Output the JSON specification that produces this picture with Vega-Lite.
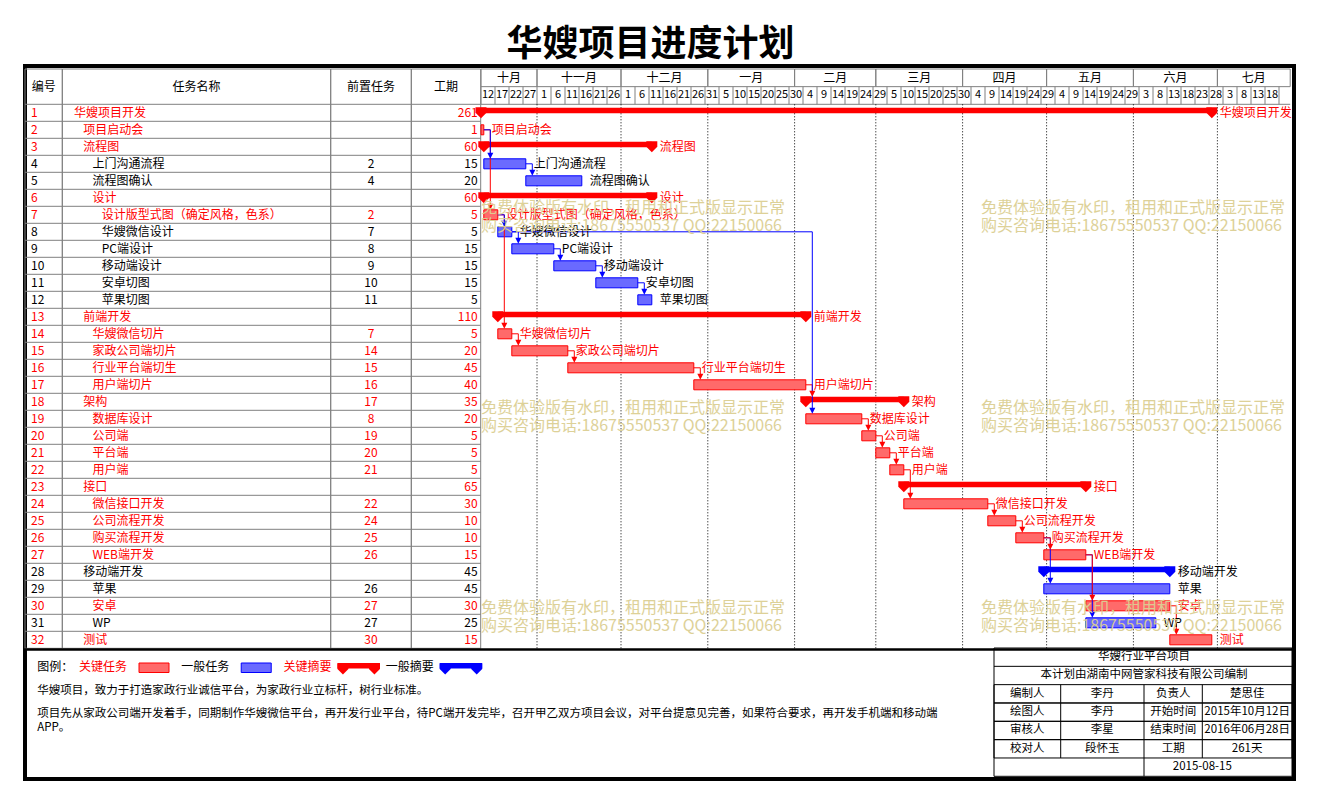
{
"$schema":"https://vega.github.io/schema/vega-lite/v6.json",
"width":1269,"height":713,
"autosize":{"type":"none"},
"padding":{"left":25,"top":66,"right":23,"bottom":24},
"background":"white",
"title":{"text":"华嫂项目进度计划","fontSize":36,"fontWeight":"bold","font":"Noto Sans CJK SC","anchor":"middle","dx":-9,"offset":2,"color":"#000000"},
"config":{"view":{"stroke":"#000000","strokeWidth":4},"axis":{"disable":true},"legend":{"disable":true},"text":{"font":"Noto Sans CJK SC","fontSize":12}},
"datasets":{
"tasks":[
{"id":1,"名称":"华嫂项目开发","级别":1,"前置":"","工期":261,"开始":"2015-10-12","结束":"2016-06-29","类型":"关键","形式":"摘要"},
{"id":2,"名称":"项目启动会","级别":2,"前置":"","工期":1,"开始":"2015-10-12","结束":"2015-10-13","类型":"关键","形式":"任务"},
{"id":3,"名称":"流程图","级别":2,"前置":"","工期":60,"开始":"2015-10-13","结束":"2015-12-12","类型":"关键","形式":"摘要"},
{"id":4,"名称":"上门沟通流程","级别":3,"前置":"2","工期":15,"开始":"2015-10-13","结束":"2015-10-28","类型":"一般","形式":"任务"},
{"id":5,"名称":"流程图确认","级别":3,"前置":"4","工期":20,"开始":"2015-10-28","结束":"2015-11-17","类型":"一般","形式":"任务"},
{"id":6,"名称":"设计","级别":3,"前置":"","工期":60,"开始":"2015-10-13","结束":"2015-12-12","类型":"关键","形式":"摘要"},
{"id":7,"名称":"设计版型式图（确定风格，色系）","级别":4,"前置":"2","工期":5,"开始":"2015-10-13","结束":"2015-10-18","类型":"关键","形式":"任务"},
{"id":8,"名称":"华嫂微信设计","级别":4,"前置":"7","工期":5,"开始":"2015-10-18","结束":"2015-10-23","类型":"一般","形式":"任务"},
{"id":9,"名称":"PC端设计","级别":4,"前置":"8","工期":15,"开始":"2015-10-23","结束":"2015-11-07","类型":"一般","形式":"任务"},
{"id":10,"名称":"移动端设计","级别":4,"前置":"9","工期":15,"开始":"2015-11-07","结束":"2015-11-22","类型":"一般","形式":"任务"},
{"id":11,"名称":"安卓切图","级别":4,"前置":"10","工期":15,"开始":"2015-11-22","结束":"2015-12-07","类型":"一般","形式":"任务"},
{"id":12,"名称":"苹果切图","级别":4,"前置":"11","工期":5,"开始":"2015-12-07","结束":"2015-12-12","类型":"一般","形式":"任务"},
{"id":13,"名称":"前端开发","级别":2,"前置":"","工期":110,"开始":"2015-10-18","结束":"2016-02-05","类型":"关键","形式":"摘要"},
{"id":14,"名称":"华嫂微信切片","级别":3,"前置":"7","工期":5,"开始":"2015-10-18","结束":"2015-10-23","类型":"关键","形式":"任务"},
{"id":15,"名称":"家政公司端切片","级别":3,"前置":"14","工期":20,"开始":"2015-10-23","结束":"2015-11-12","类型":"关键","形式":"任务"},
{"id":16,"名称":"行业平台端切生","级别":3,"前置":"15","工期":45,"开始":"2015-11-12","结束":"2015-12-27","类型":"关键","形式":"任务"},
{"id":17,"名称":"用户端切片","级别":3,"前置":"16","工期":40,"开始":"2015-12-27","结束":"2016-02-05","类型":"关键","形式":"任务"},
{"id":18,"名称":"架构","级别":2,"前置":"17","工期":35,"开始":"2016-02-05","结束":"2016-03-11","类型":"关键","形式":"摘要"},
{"id":19,"名称":"数据库设计","级别":3,"前置":"8","工期":20,"开始":"2016-02-05","结束":"2016-02-25","类型":"关键","形式":"任务"},
{"id":20,"名称":"公司端","级别":3,"前置":"19","工期":5,"开始":"2016-02-25","结束":"2016-03-01","类型":"关键","形式":"任务"},
{"id":21,"名称":"平台端","级别":3,"前置":"20","工期":5,"开始":"2016-03-01","结束":"2016-03-06","类型":"关键","形式":"任务"},
{"id":22,"名称":"用户端","级别":3,"前置":"21","工期":5,"开始":"2016-03-06","结束":"2016-03-11","类型":"关键","形式":"任务"},
{"id":23,"名称":"接口","级别":2,"前置":"","工期":65,"开始":"2016-03-11","结束":"2016-05-15","类型":"关键","形式":"摘要"},
{"id":24,"名称":"微信接口开发","级别":3,"前置":"22","工期":30,"开始":"2016-03-11","结束":"2016-04-10","类型":"关键","形式":"任务"},
{"id":25,"名称":"公司流程开发","级别":3,"前置":"24","工期":10,"开始":"2016-04-10","结束":"2016-04-20","类型":"关键","形式":"任务"},
{"id":26,"名称":"购买流程开发","级别":3,"前置":"25","工期":10,"开始":"2016-04-20","结束":"2016-04-30","类型":"关键","形式":"任务"},
{"id":27,"名称":"WEB端开发","级别":3,"前置":"26","工期":15,"开始":"2016-04-30","结束":"2016-05-15","类型":"关键","形式":"任务"},
{"id":28,"名称":"移动端开发","级别":2,"前置":"","工期":45,"开始":"2016-04-30","结束":"2016-06-14","类型":"一般","形式":"摘要"},
{"id":29,"名称":"苹果","级别":3,"前置":"26","工期":45,"开始":"2016-04-30","结束":"2016-06-14","类型":"一般","形式":"任务"},
{"id":30,"名称":"安卓","级别":3,"前置":"27","工期":30,"开始":"2016-05-15","结束":"2016-06-14","类型":"关键","形式":"任务"},
{"id":31,"名称":"WP","级别":3,"前置":"27","工期":25,"开始":"2016-05-15","结束":"2016-06-09","类型":"一般","形式":"任务"},
{"id":32,"名称":"测试","级别":2,"前置":"30","工期":15,"开始":"2016-06-14","结束":"2016-06-29","类型":"关键","形式":"任务"}
],
"links":[
{"前置":2,"后续":7,"前置完成":"2015-10-13","后续开始":"2015-10-13","类型":"关键"},
{"前置":2,"后续":4,"前置完成":"2015-10-13","后续开始":"2015-10-13","类型":"一般"},
{"前置":4,"后续":5,"前置完成":"2015-10-28","后续开始":"2015-10-28","类型":"一般"},
{"前置":7,"后续":14,"前置完成":"2015-10-18","后续开始":"2015-10-18","类型":"关键"},
{"前置":7,"后续":8,"前置完成":"2015-10-18","后续开始":"2015-10-18","类型":"一般"},
{"前置":8,"后续":9,"前置完成":"2015-10-23","后续开始":"2015-10-23","类型":"一般"},
{"前置":9,"后续":10,"前置完成":"2015-11-07","后续开始":"2015-11-07","类型":"一般"},
{"前置":10,"后续":11,"前置完成":"2015-11-22","后续开始":"2015-11-22","类型":"一般"},
{"前置":11,"后续":12,"前置完成":"2015-12-07","后续开始":"2015-12-07","类型":"一般"},
{"前置":14,"后续":15,"前置完成":"2015-10-23","后续开始":"2015-10-23","类型":"关键"},
{"前置":15,"后续":16,"前置完成":"2015-11-12","后续开始":"2015-11-12","类型":"关键"},
{"前置":16,"后续":17,"前置完成":"2015-12-27","后续开始":"2015-12-27","类型":"关键"},
{"前置":17,"后续":18,"前置完成":"2016-02-05","后续开始":"2016-02-05","类型":"关键"},
{"前置":8,"后续":19,"前置完成":"2015-10-23","后续开始":"2016-02-05","类型":"一般"},
{"前置":19,"后续":20,"前置完成":"2016-02-25","后续开始":"2016-02-25","类型":"关键"},
{"前置":20,"后续":21,"前置完成":"2016-03-01","后续开始":"2016-03-01","类型":"关键"},
{"前置":21,"后续":22,"前置完成":"2016-03-06","后续开始":"2016-03-06","类型":"关键"},
{"前置":22,"后续":24,"前置完成":"2016-03-11","后续开始":"2016-03-11","类型":"关键"},
{"前置":24,"后续":25,"前置完成":"2016-04-10","后续开始":"2016-04-10","类型":"关键"},
{"前置":25,"后续":26,"前置完成":"2016-04-20","后续开始":"2016-04-20","类型":"关键"},
{"前置":26,"后续":29,"前置完成":"2016-04-30","后续开始":"2016-04-30","类型":"一般"},
{"前置":26,"后续":27,"前置完成":"2016-04-30","后续开始":"2016-04-30","类型":"关键"},
{"前置":27,"后续":31,"前置完成":"2016-05-15","后续开始":"2016-05-15","类型":"一般"},
{"前置":27,"后续":30,"前置完成":"2016-05-15","后续开始":"2016-05-15","类型":"关键"},
{"前置":30,"后续":32,"前置完成":"2016-06-14","后续开始":"2016-06-14","类型":"关键"}
],
"months":[
{"月":"十月","开始":"2015-10-12","结束":"2015-11-01"},
{"月":"十一月","开始":"2015-11-01","结束":"2015-12-01"},
{"月":"十二月","开始":"2015-12-01","结束":"2016-01-01"},
{"月":"一月","开始":"2016-01-01","结束":"2016-02-01"},
{"月":"二月","开始":"2016-02-01","结束":"2016-03-01"},
{"月":"三月","开始":"2016-03-01","结束":"2016-04-01"},
{"月":"四月","开始":"2016-04-01","结束":"2016-05-01"},
{"月":"五月","开始":"2016-05-01","结束":"2016-06-01"},
{"月":"六月","开始":"2016-06-01","结束":"2016-07-01"},
{"月":"七月","开始":"2016-07-01","结束":"2016-07-27"}
],
"days":[
{"日":"12","开始":"2015-10-12"},{"日":"17","开始":"2015-10-17"},{"日":"22","开始":"2015-10-22"},{"日":"27","开始":"2015-10-27"},
{"日":"1","开始":"2015-11-01"},{"日":"6","开始":"2015-11-06"},{"日":"11","开始":"2015-11-11"},{"日":"16","开始":"2015-11-16"},{"日":"21","开始":"2015-11-21"},{"日":"26","开始":"2015-11-26"},
{"日":"1","开始":"2015-12-01"},{"日":"6","开始":"2015-12-06"},{"日":"11","开始":"2015-12-11"},{"日":"16","开始":"2015-12-16"},{"日":"21","开始":"2015-12-21"},{"日":"26","开始":"2015-12-26"},{"日":"31","开始":"2015-12-31"},
{"日":"5","开始":"2016-01-05"},{"日":"10","开始":"2016-01-10"},{"日":"15","开始":"2016-01-15"},{"日":"20","开始":"2016-01-20"},{"日":"25","开始":"2016-01-25"},{"日":"30","开始":"2016-01-30"},
{"日":"4","开始":"2016-02-04"},{"日":"9","开始":"2016-02-09"},{"日":"14","开始":"2016-02-14"},{"日":"19","开始":"2016-02-19"},{"日":"24","开始":"2016-02-24"},{"日":"29","开始":"2016-02-29"},
{"日":"5","开始":"2016-03-05"},{"日":"10","开始":"2016-03-10"},{"日":"15","开始":"2016-03-15"},{"日":"20","开始":"2016-03-20"},{"日":"25","开始":"2016-03-25"},{"日":"30","开始":"2016-03-30"},
{"日":"4","开始":"2016-04-04"},{"日":"9","开始":"2016-04-09"},{"日":"14","开始":"2016-04-14"},{"日":"19","开始":"2016-04-19"},{"日":"24","开始":"2016-04-24"},{"日":"29","开始":"2016-04-29"},
{"日":"4","开始":"2016-05-04"},{"日":"9","开始":"2016-05-09"},{"日":"14","开始":"2016-05-14"},{"日":"19","开始":"2016-05-19"},{"日":"24","开始":"2016-05-24"},{"日":"29","开始":"2016-05-29"},
{"日":"3","开始":"2016-06-03"},{"日":"8","开始":"2016-06-08"},{"日":"13","开始":"2016-06-13"},{"日":"18","开始":"2016-06-18"},{"日":"23","开始":"2016-06-23"},{"日":"28","开始":"2016-06-28"},
{"日":"3","开始":"2016-07-03"},{"日":"8","开始":"2016-07-08"},{"日":"13","开始":"2016-07-13"},{"日":"18","开始":"2016-07-18"},{"日":"","开始":"2016-07-23"}
],
"columns":[{"列":"编号","左":0,"右":1},{"列":"任务名称","左":1,"右":2},{"列":"前置任务","左":2,"右":3},{"列":"工期","左":3,"右":4}],
"legendItems":[{"条目":"关键任务","类型":"关键","形式":"任务"},{"条目":"一般任务","类型":"一般","形式":"任务"},{"条目":"关键摘要","类型":"关键","形式":"摘要"},{"条目":"一般摘要","类型":"一般","形式":"摘要"}],
"notes":[{"段":"简介","文本":"华嫂项目，致力于打造家政行业诚信平台，为家政行业立标杆，树行业标准。"},{"段":"说明","文本":"项目先从家政公司端开发着手，同期制作华嫂微信平台，再开发行业平台，待PC端开发完毕，召开甲乙双方项目会议，对平台提意见完善，如果符合要求，再开发手机端和移动端\nAPP。"}],
"info":[
{"行":1,"项甲":"编制人","值甲":"李丹","项乙":"负责人","值乙":"楚思佳"},
{"行":2,"项甲":"绘图人","值甲":"李丹","项乙":"开始时间","值乙":"2015年10月12日"},
{"行":3,"项甲":"审核人","值甲":"李星","项乙":"结束时间","值乙":"2016年06月28日"},
{"行":4,"项甲":"校对人","值甲":"段怀玉","项乙":"工期","值乙":"261天"}
],
"infoHead":[{"项目":"华嫂行业平台项目","编制":"本计划由湖南中网管家科技有限公司编制","日期":"2015-08-15"}],
"watermarks":[
{"列":"左","行":"上","文字":"免费体验版有水印，租用和正式版显示正常\n购买咨询电话:18675550537 QQ:22150066"},
{"列":"右","行":"上","文字":"免费体验版有水印，租用和正式版显示正常\n购买咨询电话:18675550537 QQ:22150066"},
{"列":"左","行":"中","文字":"免费体验版有水印，租用和正式版显示正常\n购买咨询电话:18675550537 QQ:22150066"},
{"列":"右","行":"中","文字":"免费体验版有水印，租用和正式版显示正常\n购买咨询电话:18675550537 QQ:22150066"},
{"列":"左","行":"下","文字":"免费体验版有水印，租用和正式版显示正常\n购买咨询电话:18675550537 QQ:22150066"},
{"列":"右","行":"下","文字":"免费体验版有水印，租用和正式版显示正常\n购买咨询电话:18675550537 QQ:22150066"}
]
},
"resolve":{"scale":{"x":"independent","y":"independent"}},
"layer":[
{"layer":[
 {"data":{"name":"columns"},"mark":{"type":"rect","fillOpacity":0,"stroke":"#808080","strokeWidth":1},
  "encoding":{"x":{"field":"左","type":"quantitative","scale":{"domain":[0,1,2,3,4,5],"range":[0,37.3,305.7,386.3,455.7,1267],"nice":false,"zero":false}},"x2":{"field":"右"},
   "y":{"datum":-0.5,"type":"quantitative","scale":{"domain":[-0.5,0.5,32.5],"range":[3,38.3,582.3],"nice":false,"zero":false}},"y2":{"datum":32.5}}},
 {"data":{"name":"tasks"},"mark":{"type":"rule","color":"#808080","strokeWidth":1,"yOffset":-8.5},
  "encoding":{"x":{"datum":0,"type":"quantitative"},"x2":{"datum":4},"y":{"field":"id","type":"quantitative"}}},
 {"data":{"name":"tasks"},"transform":[{"filter":"datum.id === 32"}],"mark":{"type":"rule","color":"#000000","strokeWidth":2.5,"yOffset":9.8},
  "encoding":{"x":{"datum":0,"type":"quantitative"},"x2":{"datum":5},"y":{"field":"id","type":"quantitative"}}},
 {"data":{"name":"columns"},"transform":[{"fold":["左","右"],"as":["边","位置"]}],"mark":{"type":"text","align":"center","baseline":"middle","color":"#000000"},
  "encoding":{"x":{"field":"位置","type":"quantitative","aggregate":"mean"},"y":{"datum":0,"type":"quantitative"},"text":{"field":"列","type":"nominal"}}},
 {"data":{"name":"tasks"},"mark":{"type":"text","align":"left","baseline":"middle","dx":6},
  "encoding":{"x":{"datum":0,"type":"quantitative"},"y":{"field":"id","type":"quantitative"},"text":{"field":"id","type":"nominal"},"color":{"condition":{"test":"datum['类型'] === '一般'","value":"#000000"},"value":"#ff0000"}}},
 {"data":{"name":"tasks"},"mark":{"type":"text","align":"center","baseline":"middle"},
  "encoding":{"x":{"datum":2.5,"type":"quantitative"},"y":{"field":"id","type":"quantitative"},"text":{"field":"前置","type":"nominal"},"color":{"condition":{"test":"datum['类型'] === '一般'","value":"#000000"},"value":"#ff0000"}}},
 {"data":{"name":"tasks"},"mark":{"type":"text","align":"right","baseline":"middle","dx":-3},
  "encoding":{"x":{"datum":4,"type":"quantitative"},"y":{"field":"id","type":"quantitative"},"text":{"field":"工期","type":"nominal"},"color":{"condition":{"test":"datum['类型'] === '一般'","value":"#000000"},"value":"#ff0000"}}}
]},
{"layer":[
 {"data":{"name":"tasks"},"mark":{"type":"text","align":"left","baseline":"middle"},
  "encoding":{"x":{"field":"级别","type":"quantitative","scale":{"domain":[1,4],"range":[49,76.7],"nice":false,"zero":false}},
   "y":{"field":"id","type":"quantitative","scale":{"domain":[-0.5,0.5,32.5],"range":[3,38.3,582.3],"nice":false,"zero":false}},
   "text":{"field":"名称","type":"nominal"},"color":{"condition":{"test":"datum['类型'] === '一般'","value":"#000000"},"value":"#ff0000"}}}
]},
{"layer":[
 {"data":{"name":"months"},"mark":{"type":"rect","fillOpacity":0,"stroke":"#808080","strokeWidth":1},
  "encoding":{"x":{"field":"开始","type":"temporal","scale":{"type":"utc","domain":[{"year":2015,"month":10,"date":12,"utc":true},{"year":2016,"month":7,"date":27,"utc":true}],"range":[456,1265.2],"nice":false}},"x2":{"field":"结束"},
   "y":{"datum":-0.5,"type":"quantitative","scale":{"domain":[-0.5,0.5,32.5],"range":[3,38.3,582.3],"nice":false,"zero":false}},"y2":{"datum":0}}},
 {"data":{"name":"months"},"mark":{"type":"rule","color":"#808080","strokeWidth":1},
  "encoding":{"x":{"field":"开始","type":"temporal"},"x2":{"field":"结束"},"y":{"datum":0.5,"type":"quantitative"}}},
 {"data":{"name":"days"},"mark":{"type":"rule","color":"#808080","strokeWidth":1},
  "encoding":{"x":{"field":"开始","type":"temporal"},"y":{"datum":0,"type":"quantitative"},"y2":{"datum":0.5}}},
 {"data":{"name":"days"},"mark":{"type":"text","align":"center","baseline":"middle","dx":7,"fontSize":11,"color":"#000000"},
  "encoding":{"x":{"field":"开始","type":"temporal"},"y":{"datum":0.25,"type":"quantitative"},"text":{"field":"日","type":"nominal"}}},
 {"data":{"values":[
{"月":"十月","开始":"2015-10-12","结束":"2015-11-01"},
{"月":"十一月","开始":"2015-11-01","结束":"2015-12-01"},
{"月":"十二月","开始":"2015-12-01","结束":"2016-01-01"},
{"月":"一月","开始":"2016-01-01","结束":"2016-02-01"},
{"月":"二月","开始":"2016-02-01","结束":"2016-03-01"},
{"月":"三月","开始":"2016-03-01","结束":"2016-04-01"},
{"月":"四月","开始":"2016-04-01","结束":"2016-05-01"},
{"月":"五月","开始":"2016-05-01","结束":"2016-06-01"},
{"月":"六月","开始":"2016-06-01","结束":"2016-07-01"},
{"月":"七月","开始":"2016-07-01","结束":"2016-07-27"}
  ],"format":{"parse":{"开始":"utc:'%Y-%m-%d'","结束":"utc:'%Y-%m-%d'"}}},
  "transform":[{"fold":["开始","结束"],"as":["端","日期"]},{"aggregate":[{"op":"mean","field":"日期","as":"居中"}],"groupby":["月"]}],
  "mark":{"type":"text","align":"center","baseline":"middle","fontSize":12,"color":"#000000"},
  "encoding":{"x":{"field":"居中","type":"temporal"},"y":{"datum":-0.25,"type":"quantitative"},"text":{"field":"月","type":"nominal"}}},
 {"data":{"name":"months"},"transform":[{"filter":"datum['月'] !== '十月'"}],"mark":{"type":"rule","color":"#000000","strokeWidth":1,"strokeDash":[1,2]},
  "encoding":{"x":{"field":"开始","type":"temporal"},"y":{"datum":0.5,"type":"quantitative"},"y2":{"datum":32.5}}},
 {"data":{"name":"tasks"},"transform":[{"filter":"datum['形式'] === '摘要'"}],"mark":{"type":"rect","yOffset":-5,"y2Offset":0.5},
  "encoding":{"x":{"field":"开始","type":"temporal"},"x2":{"field":"结束"},"y":{"field":"id","type":"quantitative"},"y2":{"field":"id"},
   "color":{"field":"类型","type":"nominal","scale":{"domain":["关键","一般"],"range":["#ff0000","#0000ff"]}}}},
 {"data":{"name":"tasks"},"transform":[{"filter":"datum['形式'] === '摘要'"}],"mark":{"type":"point","shape":"M-1,-1H1V0L0,1L-1,0Z","filled":true,"size":121,"opacity":1},
  "encoding":{"x":{"field":"开始","type":"temporal"},"y":{"field":"id","type":"quantitative"},"color":{"field":"类型","type":"nominal"}}},
 {"data":{"name":"tasks"},"transform":[{"filter":"datum['形式'] === '摘要'"}],"mark":{"type":"point","shape":"M-1,-1H1V0L0,1L-1,0Z","filled":true,"size":121,"opacity":1},
  "encoding":{"x":{"field":"结束","type":"temporal"},"y":{"field":"id","type":"quantitative"},"color":{"field":"类型","type":"nominal"}}},
 {"data":{"name":"tasks"},"transform":[{"filter":"datum['形式'] === '任务'"}],"mark":{"type":"rect","yOffset":-5,"y2Offset":5,"strokeWidth":1},
  "encoding":{"x":{"field":"开始","type":"temporal"},"x2":{"field":"结束"},"y":{"field":"id","type":"quantitative"},"y2":{"field":"id"},
   "fill":{"field":"类型","type":"nominal","scale":{"domain":["关键","一般"],"range":["#ff6a6a","#6a6aff"]}},
   "stroke":{"field":"类型","type":"nominal","scale":{"domain":["关键","一般"],"range":["#ff0000","#0000ff"]}}}},
 {"data":{"name":"links"},"mark":{"type":"rule","strokeWidth":1,"x2Offset":6.5},
  "encoding":{"x":{"field":"前置完成","type":"temporal"},"x2":{"field":"后续开始"},"y":{"field":"前置","type":"quantitative"},"color":{"field":"类型","type":"nominal"}}},
 {"data":{"name":"links"},"mark":{"type":"rule","strokeWidth":1,"xOffset":6.5,"y2Offset":-8},
  "encoding":{"x":{"field":"后续开始","type":"temporal"},"y":{"field":"前置","type":"quantitative"},"y2":{"field":"后续"},"color":{"field":"类型","type":"nominal"}}},
 {"data":{"name":"links"},"mark":{"type":"point","shape":"M-1,-1L1,-1L0,1Z","filled":true,"size":36,"xOffset":6.5,"yOffset":-8,"opacity":1},
  "encoding":{"x":{"field":"后续开始","type":"temporal"},"y":{"field":"后续","type":"quantitative"},"color":{"field":"类型","type":"nominal"}}},
 {"data":{"name":"tasks"},"mark":{"type":"text","align":"left","baseline":"middle","dx":8},
  "encoding":{"x":{"field":"结束","type":"temporal"},"y":{"field":"id","type":"quantitative"},"text":{"field":"名称","type":"nominal"},"color":{"condition":{"test":"datum['类型'] === '一般'","value":"#000000"},"value":"#ff0000"}}}
]},
{"layer":[
 {"data":{"name":"watermarks"},"mark":{"type":"text","align":"left","baseline":"top","fontSize":16,"lineBreak":"\n","lineHeight":18,"color":"#dccf93","opacity":0.95},
  "encoding":{"x":{"field":"列","type":"nominal","scale":{"type":"point","domain":["左","右"],"range":[456,956],"padding":0}},
   "y":{"field":"行","type":"nominal","scale":{"type":"point","domain":["上","中","下"],"range":[134,534],"padding":0}},
   "text":{"field":"文字","type":"nominal"}}}
]},
{"layer":[
 {"data":{"name":"legendItems"},"mark":{"type":"text","align":"left","baseline":"top"},
  "encoding":{"x":{"field":"条目","type":"nominal","scale":{"type":"point","domain":["关键任务","一般任务","关键摘要","一般摘要"],"range":[54,360.7],"padding":0}},
   "y":{"datum":"图例","type":"nominal","scale":{"type":"point","domain":["图例","简介","说明"],"range":[596,641.7],"padding":0}},
   "text":{"field":"条目","type":"nominal"},"color":{"condition":{"test":"datum['类型'] === '一般'","value":"#000000"},"value":"#ff0000"}}},
 {"data":{"name":"legendItems"},"transform":[{"filter":"datum['形式'] === '任务'"}],"mark":{"type":"rect","xOffset":60,"x2Offset":90,"yOffset":1,"y2Offset":10.5,"strokeWidth":1},
  "encoding":{"x":{"field":"条目","type":"nominal"},"x2":{"field":"条目"},"y":{"datum":"图例","type":"nominal"},"y2":{"datum":"图例"},
   "fill":{"field":"类型","type":"nominal"},"stroke":{"field":"类型","type":"nominal"}}},
 {"data":{"name":"legendItems"},"transform":[{"filter":"datum['形式'] === '摘要'"}],"mark":{"type":"rect","xOffset":54,"x2Offset":96.5,"yOffset":1,"y2Offset":6.5},
  "encoding":{"x":{"field":"条目","type":"nominal"},"x2":{"field":"条目"},"y":{"datum":"图例","type":"nominal"},"y2":{"datum":"图例"},"color":{"field":"类型","type":"nominal"}}},
 {"data":{"name":"legendItems"},"transform":[{"filter":"datum['形式'] === '摘要'"}],"mark":{"type":"point","shape":"M-1,-1H1V0L0,1L-1,0Z","filled":true,"size":121,"opacity":1,"xOffset":59.5,"yOffset":7},
  "encoding":{"x":{"field":"条目","type":"nominal"},"y":{"datum":"图例","type":"nominal"},"color":{"field":"类型","type":"nominal"}}},
 {"data":{"name":"legendItems"},"transform":[{"filter":"datum['形式'] === '摘要'"}],"mark":{"type":"point","shape":"M-1,-1H1V0L0,1L-1,0Z","filled":true,"size":121,"opacity":1,"xOffset":91,"yOffset":7},
  "encoding":{"x":{"field":"条目","type":"nominal"},"y":{"datum":"图例","type":"nominal"},"color":{"field":"类型","type":"nominal"}}},
 {"data":{"values":[{"标签":"图例："}]},"mark":{"type":"text","align":"left","baseline":"top","dx":-41.7,"color":"#000000"},
  "encoding":{"x":{"datum":"关键任务","type":"nominal"},"y":{"datum":"图例","type":"nominal"},"text":{"field":"标签","type":"nominal"}}},
 {"data":{"name":"notes"},"mark":{"type":"text","align":"left","baseline":"top","dx":-41.7,"color":"#000000","lineBreak":"\n","lineHeight":14.3,"fontSize":11.5},
  "encoding":{"x":{"datum":"关键任务","type":"nominal"},"y":{"field":"段","type":"nominal"},"text":{"field":"文本","type":"nominal"}}}
]},
{"layer":[
 {"data":{"name":"info"},"mark":{"type":"rect","fillOpacity":0,"stroke":"#000000","strokeWidth":1,"yOffset":-9.17,"y2Offset":9.17},
  "encoding":{"x":{"datum":0,"type":"quantitative","scale":{"domain":[0,1,2,3,4],"range":[969,1035.7,1119,1177.3,1267],"nice":false,"zero":false}},"x2":{"datum":4},
   "y":{"field":"行","type":"quantitative","scale":{"domain":[-1.5,5.5],"range":[582,710.3],"nice":false,"zero":false}},"y2":{"field":"行"}}},
 {"data":{"name":"infoHead"},"mark":{"type":"rect","fillOpacity":0,"stroke":"#000000","strokeWidth":1},
  "encoding":{"x":{"datum":0,"type":"quantitative"},"x2":{"datum":4},"y":{"datum":-1.5,"type":"quantitative"},"y2":{"datum":5.5}}},
 {"data":{"name":"infoHead"},"mark":{"type":"rule","color":"#000000","strokeWidth":1},
  "encoding":{"x":{"datum":0,"type":"quantitative"},"x2":{"datum":4},"y":{"datum":-0.5,"type":"quantitative"}}},
 {"data":{"name":"infoHead"},"mark":{"type":"rule","color":"#000000","strokeWidth":1},
  "encoding":{"x":{"datum":1,"type":"quantitative"},"y":{"datum":0.5,"type":"quantitative"},"y2":{"datum":4.5}}},
 {"data":{"name":"infoHead"},"mark":{"type":"rule","color":"#000000","strokeWidth":1},
  "encoding":{"x":{"datum":3,"type":"quantitative"},"y":{"datum":0.5,"type":"quantitative"},"y2":{"datum":4.5}}},
 {"data":{"name":"infoHead"},"mark":{"type":"rule","color":"#000000","strokeWidth":1},
  "encoding":{"x":{"datum":2,"type":"quantitative"},"y":{"datum":0.5,"type":"quantitative"},"y2":{"datum":5.5}}},
 {"data":{"name":"info"},"mark":{"type":"text","align":"center","baseline":"middle","color":"#000000","fontSize":11.5},
  "encoding":{"x":{"datum":0.5,"type":"quantitative"},"y":{"field":"行","type":"quantitative"},"text":{"field":"项甲","type":"nominal"}}},
 {"data":{"name":"info"},"mark":{"type":"text","align":"center","baseline":"middle","color":"#000000","fontSize":11.5},
  "encoding":{"x":{"datum":1.5,"type":"quantitative"},"y":{"field":"行","type":"quantitative"},"text":{"field":"值甲","type":"nominal"}}},
 {"data":{"name":"info"},"mark":{"type":"text","align":"center","baseline":"middle","color":"#000000","fontSize":11.5},
  "encoding":{"x":{"datum":2.5,"type":"quantitative"},"y":{"field":"行","type":"quantitative"},"text":{"field":"项乙","type":"nominal"}}},
 {"data":{"name":"info"},"mark":{"type":"text","align":"center","baseline":"middle","color":"#000000","fontSize":11.5},
  "encoding":{"x":{"datum":3.5,"type":"quantitative"},"y":{"field":"行","type":"quantitative"},"text":{"field":"值乙","type":"nominal"}}},
 {"data":{"name":"infoHead"},"mark":{"type":"text","align":"center","baseline":"middle","color":"#000000","fontSize":11.5},
  "encoding":{"x":{"datum":2,"type":"quantitative"},"y":{"datum":-1,"type":"quantitative"},"text":{"field":"项目","type":"nominal"}}},
 {"data":{"name":"infoHead"},"mark":{"type":"text","align":"center","baseline":"middle","color":"#000000","fontSize":11.5},
  "encoding":{"x":{"datum":2,"type":"quantitative"},"y":{"datum":0,"type":"quantitative"},"text":{"field":"编制","type":"nominal"}}},
 {"data":{"name":"infoHead"},"mark":{"type":"text","align":"center","baseline":"middle","color":"#000000","fontSize":11.5},
  "encoding":{"x":{"datum":3,"type":"quantitative"},"y":{"datum":5,"type":"quantitative"},"text":{"field":"日期","type":"nominal"}}}
]}
]
}
